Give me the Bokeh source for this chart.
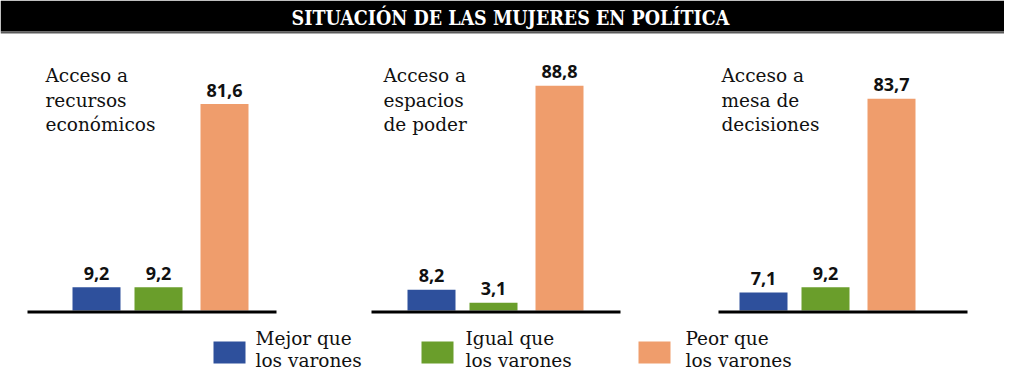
from bokeh.plotting import figure
from bokeh.models import Range1d, ColumnDataSource
from bokeh.embed import file_html
from bokeh.resources import INLINE
from bokeh.core.properties import value

# ---- data ----
title = "SITUACIÓN DE LAS MUJERES EN POLÍTICA"
categories = [
    ["Acceso a", "recursos", "económicos"],
    ["Acceso a", "espacios", "de poder"],
    ["Acceso a", "mesa de", "decisiones"],
]
series_names = [
    ["Mejor que", "los varones"],
    ["Igual que", "los varones"],
    ["Peor que", "los varones"],
]
mejor = [9.2, 8.2, 7.1]
igual = [9.2, 3.1, 9.2]
peor = [81.6, 88.8, 83.7]
colors = ["#2e509c", "#6a9e2b", "#ef9d6c"]

# ---- layout ----
W, H = 1004, 370
ZERO_PX = 310         # zero line, pixels from top
PPU = 2.53            # pixels per unit
Y1 = ZERO_PX / PPU
Y0 = -(H - ZERO_PX) / PPU
TXT_SHIFT = 7         # renderer puts alphabetic baseline this much lower


def py(px_from_top):
    return Y1 - px_from_top / PPU


def ty(baseline_px):
    return py(baseline_px - TXT_SHIFT)


SERIF = "'DejaVu Serif'"
SANS = "'Open Sans'"

p = figure(width=W, height=H, x_range=Range1d(0, W), y_range=Range1d(Y0, Y1),
           output_backend="svg", toolbar_location=None, min_border=0,
           outline_line_color=None, background_fill_color="white",
           border_fill_color="white")
p.xaxis.visible = False
p.yaxis.visible = False
p.xgrid.visible = False
p.ygrid.visible = False

# title bar
p.quad(left=[0], right=[W], top=[Y1], bottom=[py(31)], fill_color="black", line_color=None)
p.quad(left=[0], right=[W], top=[py(31)], bottom=[py(33)], fill_color="#5a5a5a", line_color=None)
p.text(x=[510], y=[ty(25)], text=[title], text_color="white",
       text_font=value("'DejaVu Serif Condensed', 'Liberation Serif'"), text_font_style="bold",
       text_font_size="19.5px", text_align="center", text_baseline="alphabetic")

# bars
group_left = [72, 407, 739]
slot = [0, 62, 128]
bar_w = 48
base_left = [27, 371, 718]
base_w = 249

left, right, top, fill, lab, xc = [], [], [], [], [], []
for g in range(3):
    for s, vals in enumerate([mejor, igual, peor]):
        l = group_left[g] + slot[s]
        left.append(l)
        right.append(l + bar_w)
        xc.append(l + bar_w / 2)
        top.append(vals[g])
        fill.append(colors[s])
        lab.append(f"{vals[g]:.1f}".replace(".", ","))
src = ColumnDataSource(dict(left=left, right=right, top=top, fill=fill, lab=lab, xc=xc))
p.quad(left="left", right="right", bottom=0, top="top", fill_color="fill",
       line_color=None, source=src)
p.text(x="xc", y="top", text="lab", text_align="center", text_baseline="alphabetic",
       y_offset=-7 + TXT_SHIFT * -1, text_font=value(SANS), text_font_style="bold",
       text_font_size="18px", text_color="#111111", source=src)

# baselines
p.segment(x0=base_left, x1=[b + base_w for b in base_left],
          y0=[py(ZERO_PX + 1.5)] * 3, y1=[py(ZERO_PX + 1.5)] * 3, line_width=3,
          line_color="black")

# category labels
cat_x = [45, 383, 721]
for g in range(3):
    for i, line in enumerate(categories[g]):
        p.text(x=[cat_x[g]], y=[ty(82 + 24.5 * i)], text=[line], text_font=value(SERIF),
               text_font_size="18.5px", text_color="#111111", text_baseline="alphabetic",
               text_align="left")

# legend
sq_left = [213, 421, 638]
sq_w = 32
txt_left = [255, 465, 685]
p.quad(left=sq_left, right=[s + sq_w for s in sq_left], top=[py(341)] * 3,
       bottom=[py(363)] * 3, fill_color=colors, line_color=None)
for s in range(3):
    for i, line in enumerate(series_names[s]):
        p.text(x=[txt_left[s]], y=[ty(345 + 22 * i)], text=[line], text_font=value(SERIF),
               text_font_size="18.5px", text_color="#111111", text_baseline="alphabetic",
               text_align="left")

open("out.html", "w").write(file_html(p, INLINE))
